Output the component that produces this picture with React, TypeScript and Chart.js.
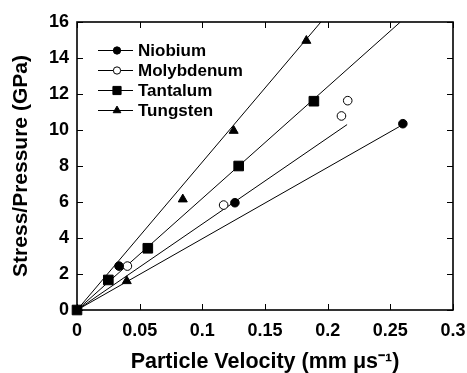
import React, { useEffect, useRef } from "react";
import { Chart, registerables } from "chart.js";

Chart.register(...registerables);

const seriesNames = ["Niobium", "Molybdenum", "Tantalum", "Tungsten"];

const niobiumX = [0.0335, 0.126, 0.26];
const niobiumY = [2.44, 5.96, 10.35];
const molybdenumX = [0.0402, 0.117, 0.211, 0.216];
const molybdenumY = [2.44, 5.83, 10.78, 11.63];
const tantalumX = [0, 0.025, 0.0565, 0.129, 0.189];
const tantalumY = [0, 1.67, 3.43, 8.0, 11.6];
const tungstenX = [0.0397, 0.0844, 0.125, 0.183];
const tungstenY = [1.61, 6.15, 9.96, 14.96];

// straight fit lines (start and end values)
const niobiumFitX = [0, 0.26];
const niobiumFitY = [0, 10.3];
const molybdenumFitX = [0, 0.2155];
const molybdenumFitY = [0, 10.3];
const tantalumFitX = [0, 0.258];
const tantalumFitY = [0, 16];
const tungstenFitX = [0, 0.1946];
const tungstenFitY = [0, 16];

const xTickValues = [0, 0.05, 0.1, 0.15, 0.2, 0.25, 0.3];
const xTickLabels = ["0", "0.05", "0.1", "0.15", "0.2", "0.25", "0.3"];
const yTickValues = [0, 2, 4, 6, 8, 10, 12, 14, 16];
const yTickLabels = ["0", "2", "4", "6", "8", "10", "12", "14", "16"];

const xTitle = "Particle Velocity (mm \u03bcs\u207b\u00b9)";
const yTitle = "Stress/Pressure (GPa)";

const FONT = "'Liberation Sans', Arial, Helvetica, sans-serif";

const pts = (xs: number[], ys: number[]) => xs.map((x, i) => ({ x, y: ys[i] }));

type Style = { pointStyle: string; radius: number; fill: string };
const styles: Style[] = [
  { pointStyle: "circle", radius: 4.3, fill: "#000" },
  { pointStyle: "circle", radius: 4.3, fill: "#fff" },
  { pointStyle: "rect", radius: 6.8, fill: "#000" },
  { pointStyle: "triangle", radius: 5.2, fill: "#000" },
];

function drawMarker(ctx: CanvasRenderingContext2D, s: Style, x: number, y: number, scale: number) {
  const r = s.radius * scale;
  ctx.save();
  ctx.fillStyle = s.fill;
  ctx.strokeStyle = "#000";
  ctx.lineWidth = 1;
  ctx.beginPath();
  if (s.pointStyle === "circle") {
    ctx.arc(x, y, r, 0, Math.PI * 2);
  } else if (s.pointStyle === "rect") {
    const h = r * Math.SQRT1_2;
    ctx.rect(x - h, y - h, 2 * h, 2 * h);
  } else {
    ctx.moveTo(x, y - r);
    ctx.lineTo(x + r * 0.866, y + r * 0.5);
    ctx.lineTo(x - r * 0.866, y + r * 0.5);
    ctx.closePath();
  }
  ctx.fill();
  ctx.stroke();
  ctx.restore();
}

const framePlugin = {
  id: "frameTicks",
  beforeDatasetsDraw(chart: any) {
    const { ctx, chartArea } = chart;
    const { left, right, top, bottom } = chartArea;
    const xs = chart.scales.x;
    const ys = chart.scales.y;
    ctx.save();
    ctx.strokeStyle = "#000";
    ctx.lineWidth = 1;
    const tl = 6;
    ctx.beginPath();
    xTickValues.forEach((v) => {
      const px = Math.round(xs.getPixelForValue(v)) + 0.5;
      ctx.moveTo(px, bottom);
      ctx.lineTo(px, bottom - tl);
      ctx.moveTo(px, top);
      ctx.lineTo(px, top + tl);
    });
    yTickValues.forEach((v) => {
      const py = Math.round(ys.getPixelForValue(v)) + 0.5;
      ctx.moveTo(left, py);
      ctx.lineTo(left + tl, py);
      ctx.moveTo(right, py);
      ctx.lineTo(right - tl, py);
    });
    ctx.stroke();
    ctx.lineWidth = 1.6;
    ctx.strokeRect(left, top, right - left, bottom - top);
    ctx.restore();
  },
  afterDatasetsDraw(chart: any) {
    const { ctx, chartArea } = chart;
    const { left, top } = chartArea;
    ctx.save();
    const lx0 = left + 21;
    const lx1 = left + 56;
    const mx = left + 40;
    const tx = left + 61;
    const y0 = top + 28.5;
    const dy = 20;
    ctx.font = `bold 17px ${FONT}`;
    ctx.textBaseline = "middle";
    seriesNames.forEach((name, i) => {
      const y = y0 + i * dy;
      ctx.strokeStyle = "#000";
      ctx.lineWidth = 1;
      ctx.beginPath();
      ctx.moveTo(lx0, y);
      ctx.lineTo(lx1, y);
      ctx.stroke();
      drawMarker(ctx, styles[i], mx, y, 0.85);
      ctx.fillStyle = "#000";
      ctx.fillText(name, tx, y + 1);
    });
    ctx.restore();
  },
};

export default function App() {
  const ref = useRef<HTMLCanvasElement | null>(null);
  useEffect(() => {
    document.body.style.margin = "0";
    const canvas = ref.current;
    if (!canvas) return;
    const fitLine = (xs: number[], ys: number[]) => ({
      data: pts(xs, ys),
      showLine: true,
      borderColor: "#000",
      borderWidth: 1,
      pointRadius: 0,
      order: 2,
    });
    const pointSet = (i: number, xs: number[], ys: number[]) => ({
      label: seriesNames[i],
      data: pts(xs, ys),
      showLine: false,
      clip: false,
      pointStyle: styles[i].pointStyle,
      pointRadius: styles[i].radius,
      backgroundColor: styles[i].fill,
      borderColor: "#000",
      borderWidth: 1,
      order: 1,
    });
    const chart = new Chart(canvas, {
      type: "scatter",
      data: {
        datasets: [
          fitLine(niobiumFitX, niobiumFitY),
          fitLine(molybdenumFitX, molybdenumFitY),
          fitLine(tantalumFitX, tantalumFitY),
          fitLine(tungstenFitX, tungstenFitY),
          pointSet(0, niobiumX, niobiumY),
          pointSet(1, molybdenumX, molybdenumY),
          pointSet(2, tantalumX, tantalumY),
          pointSet(3, tungstenX, tungstenY),
        ] as any,
      },
      options: {
        animation: false,
        responsive: false,
        layout: { padding: { top: 22, right: 14, left: 0, bottom: 0 } },
        plugins: { legend: { display: false }, tooltip: { enabled: false } },
        scales: {
          x: {
            type: "linear",
            min: 0,
            max: 0.3,
            afterBuildTicks: (s: any) => {
              s.ticks = xTickValues.map((v) => ({ value: v }));
            },
            afterFit: (s: any) => {
              s.height = 63;
              s.paddingLeft = 0;
              s.paddingRight = 0;
            },
            grid: { display: false, drawTicks: false },
            border: { display: false },
            ticks: {
              padding: 10,
              color: "#000",
              maxRotation: 0,
              autoSkip: false,
              font: { family: FONT, size: 18, weight: "bold" },
              callback: (_v: any, i: number) => xTickLabels[i],
            },
            title: {
              display: true,
              text: xTitle,
              color: "#000",
              padding: { top: 0, bottom: 0 },
              font: { family: FONT, size: 21.5, weight: "bold", lineHeight: 1.0 },
            },
          },
          y: {
            type: "linear",
            min: 0,
            max: 16,
            afterBuildTicks: (s: any) => {
              s.ticks = yTickValues.map((v) => ({ value: v }));
            },
            afterFit: (s: any) => {
              s.width = 77;
              s.paddingTop = 0;
              s.paddingBottom = 0;
            },
            grid: { display: false, drawTicks: false },
            border: { display: false },
            ticks: {
              padding: 8,
              color: "#000",
              autoSkip: false,
              font: { family: FONT, size: 18, weight: "bold" },
              callback: (_v: any, i: number) => yTickLabels[i],
            },
            title: {
              display: true,
              text: yTitle,
              color: "#000",
              padding: { top: 9, bottom: 0 },
              font: { family: FONT, size: 21, weight: "bold", lineHeight: 1.2 },
            },
          },
        },
      },
      plugins: [framePlugin],
    } as any);
    return () => chart.destroy();
  }, []);
  return (
    <div style={{ width: 467, height: 373, background: "#fff" }}>
      <canvas ref={ref} width={467} height={373} />
    </div>
  );
}
